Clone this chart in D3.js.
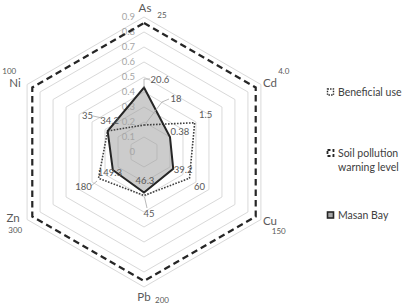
<!DOCTYPE html>
<html lang="en">
<head>
<meta charset="utf-8">
<title>radar</title>
<script src="https://d3js.org/d3.v7.min.js"></script>
<style>
  body{margin:0;background:#fff;font-family:Lato, "Open Sans", sans-serif;}
  #chart{width:406px;height:305px;}
</style>
</head>
<body>
<div id="chart"></div>
<script>
// metals on the spokes, clockwise from the top
var axes = ["As", "Cd", "Cu", "Pb", "Zn", "Ni"]

// value labels printed on the chart
var warningLevel = ["25", "4.0", "150", "200", "300", "100"]
var beneficialUse = ["18", "1.5", "60", "45", "180", "35"]
var masanBay = ["20.6", "0.38", "39.2", "46.3", "149.3", "34.2"]

// plotted (scaled) values
var warningPlot = [0.86, 0.86, 0.86, 0.86, 0.86, 0.86]
var beneficialPlot = [0.18, 0.39, 0.35, 0.29, 0.35, 0.28]
var masanPlot = [0.43, 0.20, 0.225, 0.27, 0.24, 0.28]

var ticks = [0, 0.1, 0.2, 0.3, 0.4, 0.5, 0.6, 0.7, 0.8, 0.9]

var w = 406, h = 305
var cx = 144, cy = 152

var svg = d3.select("#chart").append("svg")
    .attr("width", w).attr("height", h)

var rScale = d3.scaleLinear().domain([0, 0.9]).range([0, 135])
var aScale = d3.scalePoint().domain(axes.concat(["_"])).range([-Math.PI/2, 1.5*Math.PI])

function pt(name, v){
    var a = aScale(name), r = rScale(v)
    return [cx + r*Math.cos(a), cy + r*Math.sin(a)]
}

var line = d3.line().curve(d3.curveLinearClosed)

// gridlines
svg.append("g").selectAll("path")
    .data(ticks.slice(1))
    .enter().append("path")
    .attr("d", function(t){ return line(axes.map(function(n){ return pt(n, t) })) })
    .attr("fill", "none")
    .attr("stroke", "#d9d9d9")
    .attr("stroke-width", 1)

// Masan Bay fill
var masanPts = axes.map(function(n, i){ return pt(n, masanPlot[i]) })
svg.append("path")
    .attr("d", line(masanPts))
    .attr("fill", "#9a9a9a")
    .attr("fill-opacity", 0.5)
    .attr("stroke", "none")

// radial tick labels
svg.append("g").selectAll("text")
    .data(ticks)
    .enter().append("text")
    .attr("x", cx - 9)
    .attr("y", function(t){ return cy - rScale(t) })
    .attr("dy", "0.35em")
    .attr("text-anchor", "end")
    .attr("font-size", 9.5)
    .attr("fill", "#a6a6a6")
    .text(function(t){ return t === 0 ? "0" : d3.format(".1f")(t) })

// beneficial use (dotted)
svg.append("path")
    .attr("d", line(axes.map(function(n, i){ return pt(n, beneficialPlot[i]) })))
    .attr("fill", "none")
    .attr("stroke", "#404040")
    .attr("stroke-width", 1.6)
    .attr("stroke-dasharray", "1.6,1.4")

// warning level (dashed)
svg.append("path")
    .attr("d", line(axes.map(function(n, i){ return pt(n, warningPlot[i]) })))
    .attr("fill", "none")
    .attr("stroke", "#262626")
    .attr("stroke-width", 2.2)
    .attr("stroke-dasharray", "6.5,4")

// Masan Bay outline
svg.append("path")
    .attr("d", line(masanPts))
    .attr("fill", "none")
    .attr("stroke", "#262626")
    .attr("stroke-width", 2)
    .attr("stroke-linejoin", "miter")

// axis names, offset from the outer gridline corner
var nameOff = [[1,-9],[9,-2],[9,1],[0,10],[-14,-1.5],[-12,-1.5]]
svg.append("g").selectAll("text")
    .data(axes)
    .enter().append("text")
    .attr("x", function(n, i){ return pt(n, 0.9)[0] + nameOff[i][0] })
    .attr("y", function(n, i){ return pt(n, 0.9)[1] + nameOff[i][1] })
    .attr("dy", "0.35em")
    .attr("text-anchor", "middle")
    .attr("font-size", 11.5)
    .attr("fill", "#595959")
    .text(function(n){ return n })

// value labels: offsets from their vertex
var warnOff = [[18,-8],[28,-16.5],[23,14.5],[18,19],[-17,13.5],[-23,-16.5]]
var beneOff = [[32,-26],[11,-8],[10,8],[5,18.5],[-15,8],[-20,-15]]
var masanOff = [[16,-7.5],[10,-5],[10,1],[1,-11.5],[-3,3],[2,-10]]

function labels(texts, plot, offs, size){
    svg.append("g").selectAll("text")
        .data(texts)
        .enter().append("text")
        .attr("x", function(d, i){ return pt(axes[i], plot[i])[0] + offs[i][0] })
        .attr("y", function(d, i){ return pt(axes[i], plot[i])[1] + offs[i][1] })
        .attr("dy", "0.35em")
        .attr("text-anchor", "middle")
        .attr("font-size", size)
        .attr("fill", "#595959")
        .text(function(d){ return d })
}

// leader lines
var leaders = [
    [pt("As", masanPlot[0]), [144, 79], [150, 79]],
    [pt("As", beneficialPlot[0]).map(function(v, k){ return v + (k ? -2 : 2) }), [162, 102], [169, 99]],
    [[144.5, 197], [147, 208]],
    [[91, 186], [97, 181]],
    [[93, 116], [102, 118]]
]
svg.append("g").selectAll("path")
    .data(leaders)
    .enter().append("path")
    .attr("d", d3.line())
    .attr("fill", "none")
    .attr("stroke", "#a6a6a6")
    .attr("stroke-width", 0.8)

labels(warningLevel, warningPlot, warnOff, 8)
labels(beneficialUse, beneficialPlot, beneOff, 9.5)
labels(masanBay, masanPlot, masanOff, 9.5)

// legend
var legend = svg.append("g").attr("transform", "translate(327,0)")
var items = [
    {y: 92, lines: ["Beneficial use"], dash: "1.4,1.2", fill: "none", sw: 1.4},
    {y: 153, lines: ["Soil pollution", "warning level"], dash: "3,2", fill: "none", sw: 1.8},
    {y: 215, lines: ["Masan Bay"], dash: null, fill: "#a6a6a6", sw: 1.6}
]
items.forEach(function(it){
    legend.append("rect")
        .attr("x", 0.5).attr("y", it.y - 3)
        .attr("width", 6).attr("height", 6)
        .attr("fill", it.fill)
        .attr("stroke", "#262626")
        .attr("stroke-width", it.sw)
        .attr("stroke-dasharray", it.dash)
    it.lines.forEach(function(l, j){
        legend.append("text")
            .attr("x", 11)
            .attr("y", it.y + j*14)
            .attr("dy", "0.35em")
            .attr("font-size", 10.5)
            .attr("fill", "#404040")
            .text(l)
    })
})
</script>
</body>
</html>
